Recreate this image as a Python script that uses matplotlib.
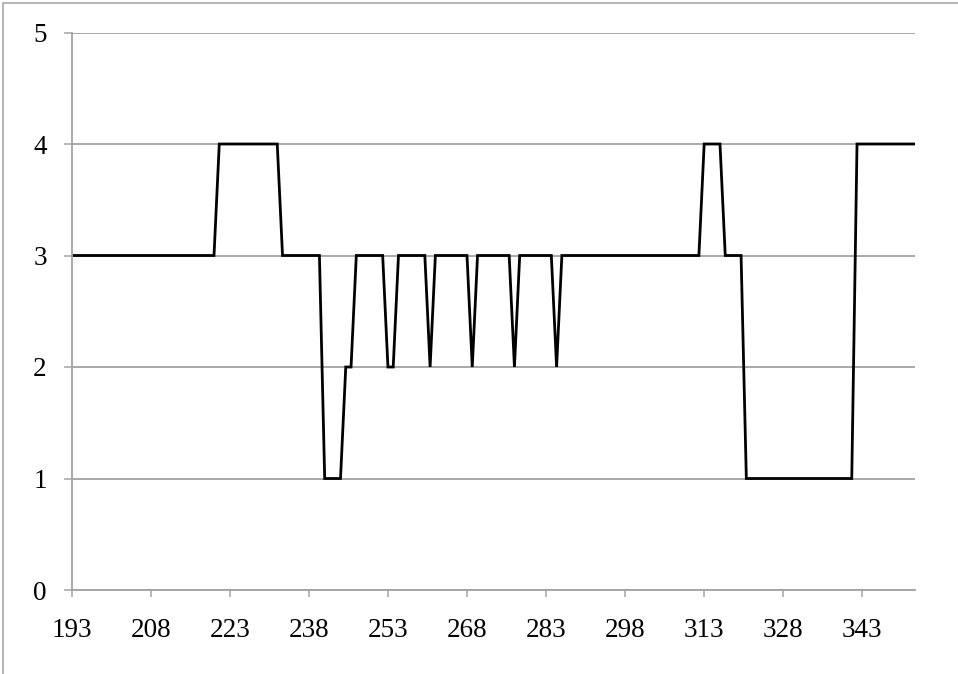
import matplotlib
matplotlib.use("Agg")
import matplotlib.pyplot as plt
from matplotlib.patches import Rectangle
import numpy as np

# category axis: 193 .. 353
categories = list(range(193, 354))

values = [
    3, 3, 3, 3, 3, 3, 3, 3, 3, 3, 3, 3, 3, 3, 3, 3, 3, 3, 3, 3,   # 193-212
    3, 3, 3, 3, 3, 3, 3, 3, 4, 4, 4, 4, 4, 4, 4, 4, 4, 4, 4, 4,   # 213-232
    3, 3, 3, 3, 3, 3, 3, 3, 1, 1, 1, 1, 2, 2, 3, 3, 3, 3, 3, 3,   # 233-252
    2, 2, 3, 3, 3, 3, 3, 3, 2, 3, 3, 3, 3, 3, 3, 3, 2, 3, 3, 3,   # 253-272
    3, 3, 3, 3, 2, 3, 3, 3, 3, 3, 3, 3, 2, 3, 3, 3, 3, 3, 3, 3,   # 273-292
    3, 3, 3, 3, 3, 3, 3, 3, 3, 3, 3, 3, 3, 3, 3, 3, 3, 3, 3, 3,   # 293-312
    4, 4, 4, 4, 3, 3, 3, 3, 1, 1, 1, 1, 1, 1, 1, 1, 1, 1, 1, 1,   # 313-332
    1, 1, 1, 1, 1, 1, 1, 1, 1, 4, 4, 4, 4, 4, 4, 4, 4, 4, 4, 4,   # 333-352
    4,                                                            # 353
]

x_ticks = list(range(193, 354, 15))
y_ticks = [0, 1, 2, 3, 4, 5]

plt.rcParams['font.family'] = ['Liberation Serif', 'DejaVu Serif']

W, H = 958, 674
fig = plt.figure(figsize=(W / 100, H / 100), dpi=100)
ax = fig.add_axes([71.7 / W, 1 - 590 / H, (915 - 71.7) / W, (590 - 32.5) / H])

grid_col = "#a3a3a3"

ax.plot(categories, values, color="black", linewidth=2.0, solid_joinstyle="miter")

ax.set_xlim(categories[0], categories[-1])
ax.set_ylim(0, 5)
ax.set_xticks(x_ticks)
ax.set_yticks(y_ticks)
ax.tick_params(axis="x", direction="out", length=5, width=1.1, color=grid_col,
               pad=15, labelsize=19.5)
ax.tick_params(axis="y", direction="out", length=6, width=1.1, color=grid_col,
               pad=12, labelsize=19.5)

ax.yaxis.grid(True, color=grid_col, linewidth=1.3)
ax.set_axisbelow(True)

for s in ["top", "right"]:
    ax.spines[s].set_visible(False)
for s in ["left", "bottom"]:
    ax.spines[s].set_color(grid_col)
    ax.spines[s].set_linewidth(1.3)

# outer chart-area frame (only top and left edges visible)
frame = Rectangle((3 / W, -0.5), 2.0, (1 - 3 / H) + 0.5, transform=fig.transFigure,
                  fill=False, edgecolor="#a8a8a8", linewidth=1.2, clip_on=False)
fig.patches.append(frame)

fig.savefig("out.png", dpi=100)
